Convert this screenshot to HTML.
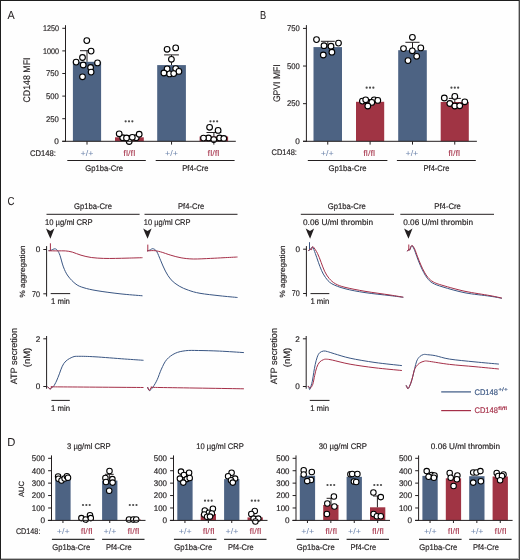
<!DOCTYPE html>
<html><head><meta charset="utf-8"><style>
html,body{margin:0;padding:0;background:#fff;}
body{width:520px;height:560px;overflow:hidden;position:relative;}
svg{position:absolute;left:0;top:0;font-family:"Liberation Sans", sans-serif;will-change:transform;-webkit-font-smoothing:antialiased;text-rendering:geometricPrecision;}
</style></head><body>
<svg width="520" height="560" viewBox="0 0 520 560">
<rect x="0" y="0" width="520" height="560" fill="#fefefe"/>
<text x="7.50" y="19.36" font-size="11.5" text-anchor="start" fill="#231f20" stroke="#231f20" stroke-width="0.05" textLength="7.20" lengthAdjust="spacingAndGlyphs">A</text>
<line x1="65.50" y1="25.20" x2="65.50" y2="141.80" stroke="#231f20" stroke-width="1.0"/>
<line x1="62.30" y1="141.30" x2="65.50" y2="141.30" stroke="#231f20" stroke-width="1.0"/>
<text x="58.90" y="144.12" font-size="8.2" text-anchor="end" fill="#231f20" stroke="#231f20" stroke-width="0.17">0</text>
<line x1="62.30" y1="118.70" x2="65.50" y2="118.70" stroke="#231f20" stroke-width="1.0"/>
<text x="58.90" y="121.52" font-size="8.2" text-anchor="end" fill="#231f20" stroke="#231f20" stroke-width="0.17" textLength="12.90" lengthAdjust="spacingAndGlyphs">250</text>
<line x1="62.30" y1="96.10" x2="65.50" y2="96.10" stroke="#231f20" stroke-width="1.0"/>
<text x="58.90" y="98.92" font-size="8.2" text-anchor="end" fill="#231f20" stroke="#231f20" stroke-width="0.17" textLength="12.90" lengthAdjust="spacingAndGlyphs">500</text>
<line x1="62.30" y1="73.50" x2="65.50" y2="73.50" stroke="#231f20" stroke-width="1.0"/>
<text x="58.90" y="76.32" font-size="8.2" text-anchor="end" fill="#231f20" stroke="#231f20" stroke-width="0.17" textLength="12.90" lengthAdjust="spacingAndGlyphs">750</text>
<line x1="62.30" y1="50.90" x2="65.50" y2="50.90" stroke="#231f20" stroke-width="1.0"/>
<text x="58.90" y="53.72" font-size="8.2" text-anchor="end" fill="#231f20" stroke="#231f20" stroke-width="0.17" textLength="16.00" lengthAdjust="spacingAndGlyphs">1000</text>
<line x1="62.30" y1="28.30" x2="65.50" y2="28.30" stroke="#231f20" stroke-width="1.0"/>
<text x="58.90" y="31.12" font-size="8.2" text-anchor="end" fill="#231f20" stroke="#231f20" stroke-width="0.17" textLength="16.00" lengthAdjust="spacingAndGlyphs">1250</text>
<text transform="translate(30.20,80.00) rotate(-90)" x="0" y="0" font-size="9.6" text-anchor="middle" fill="#231f20" stroke="#231f20" stroke-width="0.17" textLength="45.00" lengthAdjust="spacingAndGlyphs">CD148 MFI</text>
<rect x="72.90" y="61.80" width="28.20" height="79.50" fill="#4d6383"/>
<line x1="87.00" y1="141.30" x2="87.00" y2="144.60" stroke="#231f20" stroke-width="1.0"/>
<rect x="115.00" y="137.30" width="28.80" height="4.00" fill="#a03444"/>
<line x1="129.40" y1="141.30" x2="129.40" y2="144.60" stroke="#231f20" stroke-width="1.0"/>
<rect x="157.20" y="65.10" width="28.70" height="76.20" fill="#4d6383"/>
<line x1="171.55" y1="141.30" x2="171.55" y2="144.60" stroke="#231f20" stroke-width="1.0"/>
<rect x="199.60" y="136.50" width="28.50" height="4.80" fill="#a03444"/>
<line x1="213.85" y1="141.30" x2="213.85" y2="144.60" stroke="#231f20" stroke-width="1.0"/>
<line x1="87.00" y1="61.80" x2="87.00" y2="50.70" stroke="#231f20" stroke-width="1.0"/>
<line x1="80.00" y1="50.70" x2="94.00" y2="50.70" stroke="#231f20" stroke-width="1.0"/>
<line x1="171.50" y1="65.10" x2="171.50" y2="54.90" stroke="#231f20" stroke-width="1.0"/>
<line x1="164.10" y1="54.90" x2="178.90" y2="54.90" stroke="#231f20" stroke-width="1.0"/>
<line x1="213.90" y1="136.50" x2="213.90" y2="132.50" stroke="#231f20" stroke-width="1.0"/>
<line x1="206.50" y1="132.50" x2="221.30" y2="132.50" stroke="#231f20" stroke-width="1.0"/>
<line x1="129.40" y1="137.30" x2="129.40" y2="135.50" stroke="#231f20" stroke-width="1.0"/>
<line x1="123.50" y1="135.50" x2="135.30" y2="135.50" stroke="#231f20" stroke-width="1.0"/>
<circle cx="86.80" cy="40.60" r="2.85" fill="#fff" stroke="#000" stroke-width="1.12"/>
<circle cx="91.10" cy="51.10" r="2.85" fill="#fff" stroke="#000" stroke-width="1.12"/>
<circle cx="82.50" cy="57.50" r="2.85" fill="#fff" stroke="#000" stroke-width="1.12"/>
<circle cx="76.10" cy="62.10" r="2.85" fill="#fff" stroke="#000" stroke-width="1.12"/>
<circle cx="97.50" cy="62.90" r="2.85" fill="#fff" stroke="#000" stroke-width="1.12"/>
<circle cx="83.20" cy="65.00" r="2.85" fill="#fff" stroke="#000" stroke-width="1.12"/>
<circle cx="90.60" cy="67.50" r="2.85" fill="#fff" stroke="#000" stroke-width="1.12"/>
<circle cx="91.10" cy="72.10" r="2.85" fill="#fff" stroke="#000" stroke-width="1.12"/>
<circle cx="82.50" cy="76.80" r="2.85" fill="#fff" stroke="#000" stroke-width="1.12"/>
<circle cx="122.70" cy="137.70" r="2.85" fill="#fff" stroke="#000" stroke-width="1.12"/>
<circle cx="136.20" cy="137.70" r="2.85" fill="#fff" stroke="#000" stroke-width="1.12"/>
<circle cx="129.20" cy="141.50" r="2.85" fill="#fff" stroke="#000" stroke-width="1.12"/>
<circle cx="119.20" cy="133.80" r="2.85" fill="#fff" stroke="#000" stroke-width="1.12"/>
<circle cx="139.20" cy="134.20" r="2.85" fill="#fff" stroke="#000" stroke-width="1.12"/>
<circle cx="126.50" cy="138.00" r="2.85" fill="#fff" stroke="#000" stroke-width="1.12"/>
<circle cx="132.30" cy="137.30" r="2.85" fill="#fff" stroke="#000" stroke-width="1.12"/>
<circle cx="167.10" cy="49.30" r="2.85" fill="#fff" stroke="#000" stroke-width="1.12"/>
<circle cx="175.70" cy="47.90" r="2.85" fill="#fff" stroke="#000" stroke-width="1.12"/>
<circle cx="171.40" cy="59.30" r="2.85" fill="#fff" stroke="#000" stroke-width="1.12"/>
<circle cx="167.10" cy="68.90" r="2.85" fill="#fff" stroke="#000" stroke-width="1.12"/>
<circle cx="175.70" cy="68.60" r="2.85" fill="#fff" stroke="#000" stroke-width="1.12"/>
<circle cx="163.90" cy="73.00" r="2.85" fill="#fff" stroke="#000" stroke-width="1.12"/>
<circle cx="178.90" cy="71.40" r="2.85" fill="#fff" stroke="#000" stroke-width="1.12"/>
<circle cx="169.60" cy="73.90" r="2.85" fill="#fff" stroke="#000" stroke-width="1.12"/>
<circle cx="173.70" cy="73.60" r="2.85" fill="#fff" stroke="#000" stroke-width="1.12"/>
<circle cx="209.60" cy="127.30" r="2.85" fill="#fff" stroke="#000" stroke-width="1.12"/>
<circle cx="218.10" cy="130.40" r="2.85" fill="#fff" stroke="#000" stroke-width="1.12"/>
<circle cx="208.50" cy="138.00" r="2.85" fill="#fff" stroke="#000" stroke-width="1.12"/>
<circle cx="219.60" cy="138.00" r="2.85" fill="#fff" stroke="#000" stroke-width="1.12"/>
<circle cx="203.50" cy="138.10" r="2.85" fill="#fff" stroke="#000" stroke-width="1.12"/>
<circle cx="223.80" cy="138.50" r="2.85" fill="#fff" stroke="#000" stroke-width="1.12"/>
<circle cx="213.80" cy="139.60" r="2.85" fill="#fff" stroke="#000" stroke-width="1.12"/>
<line x1="62.20" y1="141.30" x2="235.80" y2="141.30" stroke="#231f20" stroke-width="1.0"/>
<circle cx="125.65" cy="121.30" r="1.1" fill="#4a4a4a"/>
<circle cx="129.00" cy="121.30" r="1.1" fill="#4a4a4a"/>
<circle cx="132.35" cy="121.30" r="1.1" fill="#4a4a4a"/>
<circle cx="210.45" cy="121.30" r="1.1" fill="#4a4a4a"/>
<circle cx="213.80" cy="121.30" r="1.1" fill="#4a4a4a"/>
<circle cx="217.15" cy="121.30" r="1.1" fill="#4a4a4a"/>
<text x="29.90" y="156.32" font-size="8.2" text-anchor="start" fill="#231f20" stroke="#231f20" stroke-width="0.17" textLength="26.00" lengthAdjust="spacingAndGlyphs">CD148:</text>
<text x="87.00" y="155.82" font-size="8.2" text-anchor="middle" fill="#6f86ad" stroke="#6f86ad" stroke-width="0" textLength="12.90" lengthAdjust="spacingAndGlyphs">+/+</text>
<text x="129.30" y="155.82" font-size="8.2" text-anchor="middle" fill="#a8384f" stroke="#a8384f" stroke-width="0.05" textLength="11.90" lengthAdjust="spacingAndGlyphs">fl/fl</text>
<text x="171.50" y="155.82" font-size="8.2" text-anchor="middle" fill="#6f86ad" stroke="#6f86ad" stroke-width="0" textLength="12.90" lengthAdjust="spacingAndGlyphs">+/+</text>
<text x="213.50" y="155.82" font-size="8.2" text-anchor="middle" fill="#a8384f" stroke="#a8384f" stroke-width="0.05" textLength="11.90" lengthAdjust="spacingAndGlyphs">fl/fl</text>
<line x1="67.30" y1="160.50" x2="145.80" y2="160.50" stroke="#231f20" stroke-width="1.0"/>
<line x1="155.70" y1="160.50" x2="234.60" y2="160.50" stroke="#231f20" stroke-width="1.0"/>
<text x="104.20" y="170.82" font-size="8.2" text-anchor="middle" fill="#231f20" stroke="#231f20" stroke-width="0.17" textLength="37.80" lengthAdjust="spacingAndGlyphs">Gp1ba-Cre</text>
<text x="195.40" y="170.82" font-size="8.2" text-anchor="middle" fill="#231f20" stroke="#231f20" stroke-width="0.17" textLength="26.30" lengthAdjust="spacingAndGlyphs">Pf4-Cre</text>
<text x="260.00" y="19.46" font-size="11.5" text-anchor="start" fill="#231f20" stroke="#231f20" stroke-width="0.05" textLength="6.20" lengthAdjust="spacingAndGlyphs">B</text>
<line x1="306.40" y1="25.10" x2="306.40" y2="141.80" stroke="#231f20" stroke-width="1.0"/>
<line x1="303.00" y1="141.30" x2="306.40" y2="141.30" stroke="#231f20" stroke-width="1.0"/>
<text x="299.90" y="144.12" font-size="8.2" text-anchor="end" fill="#231f20" stroke="#231f20" stroke-width="0.17">0</text>
<line x1="303.00" y1="103.67" x2="306.40" y2="103.67" stroke="#231f20" stroke-width="1.0"/>
<text x="299.90" y="106.49" font-size="8.2" text-anchor="end" fill="#231f20" stroke="#231f20" stroke-width="0.17" textLength="12.80" lengthAdjust="spacingAndGlyphs">250</text>
<line x1="303.00" y1="66.04" x2="306.40" y2="66.04" stroke="#231f20" stroke-width="1.0"/>
<text x="299.90" y="68.86" font-size="8.2" text-anchor="end" fill="#231f20" stroke="#231f20" stroke-width="0.17" textLength="12.80" lengthAdjust="spacingAndGlyphs">500</text>
<line x1="303.00" y1="28.41" x2="306.40" y2="28.41" stroke="#231f20" stroke-width="1.0"/>
<text x="299.90" y="31.23" font-size="8.2" text-anchor="end" fill="#231f20" stroke="#231f20" stroke-width="0.17" textLength="12.80" lengthAdjust="spacingAndGlyphs">750</text>
<text transform="translate(280.20,83.20) rotate(-90)" x="0" y="0" font-size="9.6" text-anchor="middle" fill="#231f20" stroke="#231f20" stroke-width="0.17" textLength="37.80" lengthAdjust="spacingAndGlyphs">GPVI MFI</text>
<rect x="313.50" y="47.10" width="28.50" height="94.20" fill="#4d6383"/>
<line x1="327.75" y1="141.30" x2="327.75" y2="144.60" stroke="#231f20" stroke-width="1.0"/>
<rect x="356.00" y="101.80" width="28.20" height="39.50" fill="#a03444"/>
<line x1="370.10" y1="141.30" x2="370.10" y2="144.60" stroke="#231f20" stroke-width="1.0"/>
<rect x="398.20" y="50.20" width="28.60" height="91.10" fill="#4d6383"/>
<line x1="412.50" y1="141.30" x2="412.50" y2="144.60" stroke="#231f20" stroke-width="1.0"/>
<rect x="440.70" y="102.00" width="28.10" height="39.30" fill="#a03444"/>
<line x1="454.75" y1="141.30" x2="454.75" y2="144.60" stroke="#231f20" stroke-width="1.0"/>
<line x1="327.80" y1="47.10" x2="327.80" y2="41.30" stroke="#231f20" stroke-width="1.0"/>
<line x1="320.90" y1="41.30" x2="334.80" y2="41.30" stroke="#231f20" stroke-width="1.0"/>
<line x1="412.50" y1="50.20" x2="412.50" y2="42.30" stroke="#231f20" stroke-width="1.0"/>
<line x1="405.40" y1="42.30" x2="419.50" y2="42.30" stroke="#231f20" stroke-width="1.0"/>
<line x1="454.80" y1="102.00" x2="454.80" y2="98.40" stroke="#231f20" stroke-width="1.0"/>
<line x1="448.80" y1="98.40" x2="460.80" y2="98.40" stroke="#231f20" stroke-width="1.0"/>
<line x1="370.10" y1="101.80" x2="370.10" y2="99.50" stroke="#231f20" stroke-width="1.0"/>
<line x1="364.10" y1="99.50" x2="376.10" y2="99.50" stroke="#231f20" stroke-width="1.0"/>
<circle cx="316.50" cy="39.60" r="2.85" fill="#fff" stroke="#000" stroke-width="1.12"/>
<circle cx="338.50" cy="43.10" r="2.85" fill="#fff" stroke="#000" stroke-width="1.12"/>
<circle cx="324.00" cy="45.70" r="2.85" fill="#fff" stroke="#000" stroke-width="1.12"/>
<circle cx="331.00" cy="46.20" r="2.85" fill="#fff" stroke="#000" stroke-width="1.12"/>
<circle cx="331.90" cy="52.20" r="2.85" fill="#fff" stroke="#000" stroke-width="1.12"/>
<circle cx="323.30" cy="55.00" r="2.85" fill="#fff" stroke="#000" stroke-width="1.12"/>
<circle cx="362.40" cy="101.10" r="2.85" fill="#fff" stroke="#000" stroke-width="1.12"/>
<circle cx="365.70" cy="99.80" r="2.85" fill="#fff" stroke="#000" stroke-width="1.12"/>
<circle cx="374.20" cy="99.80" r="2.85" fill="#fff" stroke="#000" stroke-width="1.12"/>
<circle cx="377.80" cy="100.40" r="2.85" fill="#fff" stroke="#000" stroke-width="1.12"/>
<circle cx="371.80" cy="102.40" r="2.85" fill="#fff" stroke="#000" stroke-width="1.12"/>
<circle cx="367.80" cy="106.00" r="2.85" fill="#fff" stroke="#000" stroke-width="1.12"/>
<circle cx="412.40" cy="37.30" r="2.85" fill="#fff" stroke="#000" stroke-width="1.12"/>
<circle cx="403.50" cy="48.60" r="2.85" fill="#fff" stroke="#000" stroke-width="1.12"/>
<circle cx="420.80" cy="47.90" r="2.85" fill="#fff" stroke="#000" stroke-width="1.12"/>
<circle cx="412.30" cy="50.80" r="2.85" fill="#fff" stroke="#000" stroke-width="1.12"/>
<circle cx="416.70" cy="56.30" r="2.85" fill="#fff" stroke="#000" stroke-width="1.12"/>
<circle cx="408.00" cy="60.60" r="2.85" fill="#fff" stroke="#000" stroke-width="1.12"/>
<circle cx="444.30" cy="98.00" r="2.85" fill="#fff" stroke="#000" stroke-width="1.12"/>
<circle cx="454.80" cy="96.40" r="2.85" fill="#fff" stroke="#000" stroke-width="1.12"/>
<circle cx="464.80" cy="101.80" r="2.85" fill="#fff" stroke="#000" stroke-width="1.12"/>
<circle cx="449.80" cy="103.50" r="2.85" fill="#fff" stroke="#000" stroke-width="1.12"/>
<circle cx="454.80" cy="106.00" r="2.85" fill="#fff" stroke="#000" stroke-width="1.12"/>
<circle cx="459.70" cy="105.80" r="2.85" fill="#fff" stroke="#000" stroke-width="1.12"/>
<line x1="303.00" y1="141.30" x2="476.90" y2="141.30" stroke="#231f20" stroke-width="1.0"/>
<circle cx="366.65" cy="87.70" r="1.1" fill="#4a4a4a"/>
<circle cx="370.00" cy="87.70" r="1.1" fill="#4a4a4a"/>
<circle cx="373.35" cy="87.70" r="1.1" fill="#4a4a4a"/>
<circle cx="451.45" cy="87.70" r="1.1" fill="#4a4a4a"/>
<circle cx="454.80" cy="87.70" r="1.1" fill="#4a4a4a"/>
<circle cx="458.15" cy="87.70" r="1.1" fill="#4a4a4a"/>
<text x="271.60" y="155.42" font-size="8.2" text-anchor="start" fill="#231f20" stroke="#231f20" stroke-width="0.17" textLength="25.30" lengthAdjust="spacingAndGlyphs">CD148:</text>
<text x="327.20" y="155.82" font-size="8.2" text-anchor="middle" fill="#6f86ad" stroke="#6f86ad" stroke-width="0" textLength="12.90" lengthAdjust="spacingAndGlyphs">+/+</text>
<text x="369.20" y="155.82" font-size="8.2" text-anchor="middle" fill="#a8384f" stroke="#a8384f" stroke-width="0.05" textLength="11.90" lengthAdjust="spacingAndGlyphs">fl/fl</text>
<text x="411.90" y="155.82" font-size="8.2" text-anchor="middle" fill="#6f86ad" stroke="#6f86ad" stroke-width="0" textLength="12.90" lengthAdjust="spacingAndGlyphs">+/+</text>
<text x="454.20" y="155.82" font-size="8.2" text-anchor="middle" fill="#a8384f" stroke="#a8384f" stroke-width="0.05" textLength="11.90" lengthAdjust="spacingAndGlyphs">fl/fl</text>
<line x1="307.80" y1="160.50" x2="387.40" y2="160.50" stroke="#231f20" stroke-width="1.0"/>
<line x1="396.90" y1="160.50" x2="475.80" y2="160.50" stroke="#231f20" stroke-width="1.0"/>
<text x="347.50" y="170.62" font-size="8.2" text-anchor="middle" fill="#231f20" stroke="#231f20" stroke-width="0.17" textLength="38.10" lengthAdjust="spacingAndGlyphs">Gp1ba-Cre</text>
<text x="436.50" y="170.62" font-size="8.2" text-anchor="middle" fill="#231f20" stroke="#231f20" stroke-width="0.17" textLength="25.90" lengthAdjust="spacingAndGlyphs">Pf4-Cre</text>
<text x="7.50" y="204.86" font-size="11.5" text-anchor="start" fill="#231f20" stroke="#231f20" stroke-width="0.05" textLength="7.00" lengthAdjust="spacingAndGlyphs">C</text>
<text x="93.00" y="208.82" font-size="8.2" text-anchor="middle" fill="#231f20" stroke="#231f20" stroke-width="0.17" textLength="37.80" lengthAdjust="spacingAndGlyphs">Gp1ba-Cre</text>
<text x="191.10" y="208.82" font-size="8.2" text-anchor="middle" fill="#231f20" stroke="#231f20" stroke-width="0.17" textLength="26.20" lengthAdjust="spacingAndGlyphs">Pf4-Cre</text>
<text x="346.70" y="208.82" font-size="8.2" text-anchor="middle" fill="#231f20" stroke="#231f20" stroke-width="0.17" textLength="38.10" lengthAdjust="spacingAndGlyphs">Gp1ba-Cre</text>
<text x="447.60" y="208.82" font-size="8.2" text-anchor="middle" fill="#231f20" stroke="#231f20" stroke-width="0.17" textLength="26.50" lengthAdjust="spacingAndGlyphs">Pf4-Cre</text>
<line x1="46.50" y1="214.30" x2="139.60" y2="214.30" stroke="#231f20" stroke-width="1.0"/>
<line x1="144.50" y1="214.30" x2="237.50" y2="214.30" stroke="#231f20" stroke-width="1.0"/>
<line x1="300.80" y1="214.30" x2="394.00" y2="214.30" stroke="#231f20" stroke-width="1.0"/>
<line x1="400.30" y1="214.30" x2="494.00" y2="214.30" stroke="#231f20" stroke-width="1.0"/>
<text x="45.00" y="224.92" font-size="8.2" text-anchor="start" fill="#231f20" stroke="#231f20" stroke-width="0.17" textLength="47.70" lengthAdjust="spacingAndGlyphs">10 µg/ml CRP</text>
<text x="143.80" y="224.92" font-size="8.2" text-anchor="start" fill="#231f20" stroke="#231f20" stroke-width="0.17" textLength="46.70" lengthAdjust="spacingAndGlyphs">10 µg/ml CRP</text>
<text x="303.00" y="225.02" font-size="8.2" text-anchor="start" fill="#231f20" stroke="#231f20" stroke-width="0.17" textLength="70.00" lengthAdjust="spacingAndGlyphs">0.06 U/ml thrombin</text>
<text x="403.20" y="225.02" font-size="8.2" text-anchor="start" fill="#231f20" stroke="#231f20" stroke-width="0.17" textLength="69.80" lengthAdjust="spacingAndGlyphs">0.06 U/ml thrombin</text>
<path d="M46.00,228.4 L50.30,230.9 L54.40,228.5 Q52.70,233.0 50.40,238.7 Q47.70,233.0 46.00,228.4 Z" fill="#231f20"/>
<path d="M143.20,228.4 L147.50,230.9 L151.60,228.5 Q149.90,233.0 147.60,238.7 Q144.90,233.0 143.20,228.4 Z" fill="#231f20"/>
<path d="M305.70,228.4 L310.00,230.9 L314.10,228.5 Q312.40,233.0 310.10,238.7 Q307.40,233.0 305.70,228.4 Z" fill="#231f20"/>
<path d="M404.10,228.4 L408.40,230.9 L412.50,228.5 Q410.80,233.0 408.50,238.7 Q405.80,233.0 404.10,228.4 Z" fill="#231f20"/>
<line x1="46.60" y1="246.10" x2="46.60" y2="296.50" stroke="#231f20" stroke-width="1.0"/>
<line x1="43.30" y1="249.50" x2="46.60" y2="249.50" stroke="#231f20" stroke-width="1.0"/>
<line x1="43.30" y1="293.80" x2="46.60" y2="293.80" stroke="#231f20" stroke-width="1.0"/>
<text x="40.20" y="252.32" font-size="8.2" text-anchor="end" fill="#231f20" stroke="#231f20" stroke-width="0.17">0</text>
<text x="40.00" y="296.62" font-size="8.2" text-anchor="end" fill="#231f20" stroke="#231f20" stroke-width="0.17" textLength="8.00" lengthAdjust="spacingAndGlyphs">70</text>
<line x1="50.70" y1="293.60" x2="70.20" y2="293.60" stroke="#231f20" stroke-width="1.0"/>
<text x="60.45" y="304.12" font-size="8.2" text-anchor="middle" fill="#231f20" stroke="#231f20" stroke-width="0.17" textLength="19.00" lengthAdjust="spacingAndGlyphs">1 min</text>
<text transform="translate(25.21,271.50) rotate(-90)" x="0" y="0" font-size="7.6" text-anchor="middle" fill="#231f20" stroke="#231f20" stroke-width="0.17" textLength="52.00" lengthAdjust="spacingAndGlyphs">% aggregation</text>
<line x1="306.40" y1="246.10" x2="306.40" y2="296.50" stroke="#231f20" stroke-width="1.0"/>
<line x1="303.10" y1="249.20" x2="306.40" y2="249.20" stroke="#231f20" stroke-width="1.0"/>
<line x1="303.10" y1="293.50" x2="306.40" y2="293.50" stroke="#231f20" stroke-width="1.0"/>
<text x="300.00" y="252.02" font-size="8.2" text-anchor="end" fill="#231f20" stroke="#231f20" stroke-width="0.17">0</text>
<text x="299.80" y="296.32" font-size="8.2" text-anchor="end" fill="#231f20" stroke="#231f20" stroke-width="0.17" textLength="8.00" lengthAdjust="spacingAndGlyphs">70</text>
<line x1="310.50" y1="293.60" x2="329.30" y2="293.60" stroke="#231f20" stroke-width="1.0"/>
<text x="319.90" y="304.12" font-size="8.2" text-anchor="middle" fill="#231f20" stroke="#231f20" stroke-width="0.17" textLength="19.00" lengthAdjust="spacingAndGlyphs">1 min</text>
<text transform="translate(285.01,271.50) rotate(-90)" x="0" y="0" font-size="7.6" text-anchor="middle" fill="#231f20" stroke="#231f20" stroke-width="0.17" textLength="52.00" lengthAdjust="spacingAndGlyphs">% aggregation</text>
<line x1="46.60" y1="336.00" x2="46.60" y2="388.70" stroke="#231f20" stroke-width="1.0"/>
<line x1="43.30" y1="338.80" x2="46.60" y2="338.80" stroke="#231f20" stroke-width="1.0"/>
<line x1="43.30" y1="386.50" x2="46.60" y2="386.50" stroke="#231f20" stroke-width="1.0"/>
<text x="40.30" y="341.62" font-size="8.2" text-anchor="end" fill="#231f20" stroke="#231f20" stroke-width="0.17">2</text>
<text x="40.30" y="389.32" font-size="8.2" text-anchor="end" fill="#231f20" stroke="#231f20" stroke-width="0.17">0</text>
<line x1="51.40" y1="400.40" x2="69.80" y2="400.40" stroke="#231f20" stroke-width="1.0"/>
<text x="60.60" y="411.22" font-size="8.2" text-anchor="middle" fill="#231f20" stroke="#231f20" stroke-width="0.17" textLength="19.00" lengthAdjust="spacingAndGlyphs">1 min</text>
<text transform="translate(17.46,356.20) rotate(-90)" x="0" y="0" font-size="9.2" text-anchor="middle" fill="#231f20" stroke="#231f20" stroke-width="0.17" textLength="56.30" lengthAdjust="spacingAndGlyphs">ATP secretion</text>
<text transform="translate(30.16,357.50) rotate(-90)" x="0" y="0" font-size="9.2" text-anchor="middle" fill="#231f20" stroke="#231f20" stroke-width="0.17" textLength="19.60" lengthAdjust="spacingAndGlyphs">(nM)</text>
<line x1="306.20" y1="336.00" x2="306.20" y2="388.70" stroke="#231f20" stroke-width="1.0"/>
<line x1="302.90" y1="338.80" x2="306.20" y2="338.80" stroke="#231f20" stroke-width="1.0"/>
<line x1="302.90" y1="386.50" x2="306.20" y2="386.50" stroke="#231f20" stroke-width="1.0"/>
<text x="299.90" y="341.62" font-size="8.2" text-anchor="end" fill="#231f20" stroke="#231f20" stroke-width="0.17">2</text>
<text x="299.90" y="389.32" font-size="8.2" text-anchor="end" fill="#231f20" stroke="#231f20" stroke-width="0.17">0</text>
<line x1="309.80" y1="400.40" x2="329.50" y2="400.40" stroke="#231f20" stroke-width="1.0"/>
<text x="319.65" y="411.22" font-size="8.2" text-anchor="middle" fill="#231f20" stroke="#231f20" stroke-width="0.17" textLength="19.00" lengthAdjust="spacingAndGlyphs">1 min</text>
<text transform="translate(277.06,356.20) rotate(-90)" x="0" y="0" font-size="9.2" text-anchor="middle" fill="#231f20" stroke="#231f20" stroke-width="0.17" textLength="56.30" lengthAdjust="spacingAndGlyphs">ATP secretion</text>
<text transform="translate(289.76,357.50) rotate(-90)" x="0" y="0" font-size="9.2" text-anchor="middle" fill="#231f20" stroke="#231f20" stroke-width="0.17" textLength="19.60" lengthAdjust="spacingAndGlyphs">(nM)</text>
<path d="M48.50,250.60 C48.92,250.55 49.95,250.60 51.00,250.30 C52.05,250.00 53.72,248.77 54.80,248.80 C55.88,248.83 56.63,249.38 57.50,250.50 C58.37,251.62 59.02,252.77 60.00,255.50 C60.98,258.23 62.07,263.48 63.40,266.90 C64.73,270.32 65.90,273.12 68.00,276.00 C70.10,278.88 73.33,282.23 76.00,284.20 C78.67,286.17 80.50,286.72 84.00,287.80 C87.50,288.88 91.00,289.70 97.00,290.70 C103.00,291.70 112.42,292.95 120.00,293.80 C127.58,294.65 138.75,295.47 142.50,295.80" fill="none" stroke="#3a5683" stroke-width="1.0" stroke-linejoin="round"/>
<path d="M48.50,250.80 C50.02,250.82 54.78,250.88 57.60,250.90 C60.42,250.92 62.95,250.70 65.40,250.90 C67.85,251.10 69.70,251.38 72.30,252.10 C74.90,252.82 77.83,254.30 81.00,255.20 C84.17,256.10 87.57,256.97 91.30,257.50 C95.03,258.03 99.35,258.25 103.40,258.40 C107.45,258.55 111.50,258.45 115.60,258.40 C119.70,258.35 123.52,258.22 128.00,258.10 C132.48,257.98 140.08,257.77 142.50,257.70" fill="none" stroke="#a52f48" stroke-width="1.0" stroke-linejoin="round"/>
<line x1="50.40" y1="243.30" x2="50.40" y2="250.60" stroke="#a52f48" stroke-width="1.0"/>
<path d="M147.00,251.00 C147.50,250.83 149.02,250.38 150.00,250.00 C150.98,249.62 151.78,248.45 152.90,248.70 C154.02,248.95 155.38,249.48 156.70,251.50 C158.02,253.52 159.35,257.53 160.80,260.80 C162.25,264.07 163.68,267.93 165.40,271.10 C167.12,274.27 168.80,277.30 171.10,279.80 C173.40,282.30 176.32,284.37 179.20,286.10 C182.08,287.83 184.93,289.00 188.40,290.20 C191.87,291.40 194.73,292.37 200.00,293.30 C205.27,294.23 213.75,295.10 220.00,295.80 C226.25,296.50 234.58,297.22 237.50,297.50" fill="none" stroke="#3a5683" stroke-width="1.0" stroke-linejoin="round"/>
<path d="M147.00,251.00 C148.08,250.93 151.27,250.47 153.50,250.60 C155.73,250.73 157.52,251.03 160.40,251.80 C163.28,252.57 167.35,254.20 170.80,255.20 C174.25,256.20 177.35,257.17 181.10,257.80 C184.85,258.43 188.38,258.90 193.30,259.00 C198.22,259.10 205.48,258.62 210.60,258.40 C215.72,258.18 219.52,257.93 224.00,257.70 C228.48,257.47 235.25,257.12 237.50,257.00" fill="none" stroke="#a52f48" stroke-width="1.0" stroke-linejoin="round"/>
<line x1="147.80" y1="244.60" x2="147.80" y2="251.00" stroke="#a52f48" stroke-width="1.0"/>
<path d="M308.30,250.70 C308.50,250.58 309.13,250.20 309.50,250.00 C309.87,249.80 309.98,249.98 310.50,249.50 C311.02,249.02 311.80,246.45 312.60,247.10 C313.40,247.75 314.33,250.87 315.30,253.40 C316.27,255.93 317.37,259.47 318.40,262.30 C319.43,265.13 320.32,267.87 321.50,270.40 C322.68,272.93 323.78,275.27 325.50,277.50 C327.22,279.73 328.55,281.88 331.80,283.75 C335.05,285.62 339.47,287.22 345.00,288.70 C350.53,290.18 357.50,291.45 365.00,292.60 C372.50,293.75 383.62,294.82 390.00,295.60 C396.38,296.38 401.08,297.02 403.30,297.30" fill="none" stroke="#3a5683" stroke-width="1.0" stroke-linejoin="round"/>
<line x1="309.50" y1="242.20" x2="309.50" y2="250.30" stroke="#3a5683" stroke-width="1.0"/>
<path d="M308.30,250.70 C308.65,250.40 309.87,249.05 310.40,248.90 C310.93,248.75 311.07,250.17 311.50,249.80 C311.93,249.43 312.00,246.10 313.00,246.70 C314.00,247.30 316.15,250.80 317.50,253.40 C318.85,256.00 319.92,259.32 321.10,262.30 C322.28,265.28 323.27,268.57 324.60,271.25 C325.93,273.93 327.30,276.32 329.10,278.40 C330.90,280.48 332.75,282.27 335.40,283.75 C338.05,285.23 340.07,286.04 345.00,287.30 C349.93,288.56 357.50,290.02 365.00,291.30 C372.50,292.58 383.62,294.02 390.00,295.00 C396.38,295.98 401.08,296.83 403.30,297.20" fill="none" stroke="#a52f48" stroke-width="1.0" stroke-linejoin="round"/>
<path d="M407.00,251.20 C407.30,250.92 408.35,249.70 408.80,249.50 C409.25,249.30 409.22,250.62 409.70,250.00 C410.18,249.38 410.95,245.92 411.70,245.80 C412.45,245.68 413.35,247.52 414.20,249.30 C415.05,251.08 415.78,253.82 416.80,256.50 C417.82,259.18 419.13,262.72 420.30,265.40 C421.47,268.08 422.63,270.47 423.80,272.60 C424.97,274.73 425.85,276.47 427.30,278.20 C428.75,279.93 429.88,281.53 432.50,283.00 C435.12,284.47 437.58,285.37 443.00,287.00 C448.42,288.63 457.17,291.27 465.00,292.80 C472.83,294.33 483.85,295.28 490.00,296.20 C496.15,297.12 499.92,297.95 501.90,298.30" fill="none" stroke="#3a5683" stroke-width="1.0" stroke-linejoin="round"/>
<path d="M407.00,251.20 C407.30,250.97 408.35,250.03 408.80,249.80 C409.25,249.57 409.18,250.53 409.70,249.80 C410.22,249.07 411.08,245.55 411.90,245.40 C412.72,245.25 413.70,247.12 414.60,248.90 C415.50,250.68 416.25,253.42 417.30,256.10 C418.35,258.78 419.72,262.33 420.90,265.00 C422.08,267.67 423.22,270.02 424.40,272.10 C425.58,274.18 426.50,275.85 428.00,277.50 C429.50,279.15 430.90,280.67 433.40,282.00 C435.90,283.33 437.73,283.95 443.00,285.50 C448.27,287.05 457.17,289.62 465.00,291.30 C472.83,292.98 483.85,294.47 490.00,295.60 C496.15,296.73 499.92,297.68 501.90,298.10" fill="none" stroke="#a52f48" stroke-width="1.0" stroke-linejoin="round"/>
<line x1="408.80" y1="244.50" x2="408.80" y2="250.50" stroke="#a52f48" stroke-width="1.0"/>
<path d="M47.50,386.60 C47.95,387.00 49.45,388.90 50.20,389.00 C50.95,389.10 51.43,387.65 52.00,387.20 C52.57,386.75 52.85,387.33 53.60,386.30 C54.35,385.27 55.53,383.08 56.50,381.00 C57.47,378.92 58.43,376.27 59.40,373.80 C60.37,371.33 61.18,368.35 62.30,366.20 C63.42,364.05 64.35,362.43 66.10,360.90 C67.85,359.37 70.72,357.77 72.80,357.00 C74.88,356.23 74.90,356.33 78.60,356.30 C82.30,356.27 87.33,356.35 95.00,356.80 C102.67,357.25 116.52,358.42 124.60,359.00 C132.68,359.58 140.35,360.08 143.50,360.30" fill="none" stroke="#3a5683" stroke-width="1.0" stroke-linejoin="round"/>
<path d="M47.50,386.60 C47.95,387.03 49.45,389.13 50.20,389.20 C50.95,389.27 50.37,387.38 52.00,387.00 C53.63,386.62 44.75,386.82 60.00,386.90 C75.25,386.98 129.58,387.40 143.50,387.50" fill="none" stroke="#a52f48" stroke-width="1.0" stroke-linejoin="round"/>
<path d="M147.50,387.00 C147.82,387.60 148.48,390.60 149.40,390.60 C150.32,390.60 151.70,388.82 153.00,387.00 C154.30,385.18 155.80,382.68 157.20,379.70 C158.60,376.72 159.82,372.45 161.40,369.10 C162.98,365.75 164.40,362.23 166.70,359.60 C169.00,356.97 172.03,354.78 175.20,353.30 C178.37,351.82 181.83,351.17 185.70,350.70 C189.57,350.23 192.75,350.43 198.40,350.50 C204.05,350.57 212.02,350.75 219.60,351.10 C227.18,351.45 239.85,352.35 243.90,352.60" fill="none" stroke="#3a5683" stroke-width="1.0" stroke-linejoin="round"/>
<path d="M147.50,387.00 C147.82,387.57 148.68,390.33 149.40,390.40 C150.12,390.47 150.03,387.88 151.80,387.40 C153.57,386.92 144.65,387.27 160.00,387.50 C175.35,387.73 229.92,388.58 243.90,388.80" fill="none" stroke="#a52f48" stroke-width="1.0" stroke-linejoin="round"/>
<path d="M307.80,386.40 C307.97,386.43 308.47,386.10 308.80,386.60 C309.13,387.10 309.22,390.28 309.80,389.40 C310.38,388.52 311.64,384.13 312.30,381.30 C312.96,378.47 313.27,375.18 313.75,372.40 C314.23,369.62 314.62,367.13 315.20,364.60 C315.77,362.07 316.47,359.17 317.20,357.20 C317.93,355.23 318.53,353.83 319.60,352.80 C320.67,351.77 322.28,351.20 323.60,351.00 C324.92,350.80 325.70,351.14 327.50,351.60 C329.30,352.06 330.63,352.65 334.40,353.75 C338.17,354.85 343.33,356.74 350.10,358.20 C356.87,359.66 366.37,361.27 375.00,362.50 C383.63,363.73 397.42,365.08 401.90,365.60" fill="none" stroke="#3a5683" stroke-width="1.0" stroke-linejoin="round"/>
<path d="M307.80,386.40 C307.92,386.42 308.08,386.22 308.50,386.50 C308.92,386.78 309.58,388.48 310.30,388.10 C311.02,387.72 312.07,386.32 312.80,384.20 C313.53,382.08 314.05,378.18 314.70,375.40 C315.35,372.62 315.88,369.72 316.70,367.50 C317.52,365.28 318.45,363.42 319.60,362.10 C320.75,360.78 322.45,360.08 323.60,359.60 C324.75,359.12 325.03,359.12 326.50,359.20 C327.97,359.28 328.47,359.27 332.40,360.10 C336.33,360.93 343.00,362.92 350.10,364.20 C357.20,365.48 366.37,366.75 375.00,367.80 C383.63,368.85 397.42,370.05 401.90,370.50" fill="none" stroke="#a52f48" stroke-width="1.0" stroke-linejoin="round"/>
<path d="M405.80,385.60 C405.90,385.62 406.02,385.20 406.40,385.70 C406.78,386.20 407.37,389.02 408.10,388.60 C408.83,388.18 410.02,385.25 410.80,383.20 C411.58,381.15 412.15,378.75 412.80,376.30 C413.45,373.85 414.05,371.03 414.70,368.50 C415.35,365.97 415.88,363.07 416.70,361.10 C417.52,359.13 418.45,357.80 419.60,356.70 C420.75,355.60 422.28,354.83 423.60,354.50 C424.92,354.17 425.53,354.50 427.50,354.70 C429.47,354.90 431.72,354.97 435.40,355.70 C439.08,356.43 443.00,358.07 449.60,359.10 C456.20,360.13 466.78,361.07 475.00,361.90 C483.22,362.73 494.92,363.73 498.90,364.10" fill="none" stroke="#3a5683" stroke-width="1.0" stroke-linejoin="round"/>
<path d="M405.80,385.60 C405.90,385.62 406.02,385.20 406.40,385.70 C406.78,386.20 407.37,389.02 408.10,388.60 C408.83,388.18 410.02,385.25 410.80,383.20 C411.58,381.15 412.23,378.42 412.80,376.30 C413.37,374.18 413.63,372.13 414.20,370.50 C414.77,368.87 415.30,367.73 416.20,366.50 C417.10,365.27 418.20,364.00 419.60,363.10 C421.00,362.20 422.95,361.38 424.60,361.10 C426.25,360.82 425.33,360.85 429.50,361.40 C433.67,361.95 442.02,363.52 449.60,364.40 C457.18,365.28 466.78,365.93 475.00,366.70 C483.22,367.47 494.92,368.62 498.90,369.00" fill="none" stroke="#a52f48" stroke-width="1.0" stroke-linejoin="round"/>
<line x1="441.20" y1="391.90" x2="471.00" y2="391.90" stroke="#3a5683" stroke-width="1.2"/>
<line x1="441.20" y1="410.60" x2="471.00" y2="410.60" stroke="#a52f48" stroke-width="1.2"/>
<text x="474.50" y="394.72" font-size="8.2" text-anchor="start" fill="#3a5683" stroke="#3a5683" stroke-width="0.17" textLength="23.40" lengthAdjust="spacingAndGlyphs">CD148</text>
<text x="498.30" y="391.02" font-size="5.0" text-anchor="start" fill="#3a5683" stroke="#3a5683" stroke-width="0.17" textLength="9.40" lengthAdjust="spacingAndGlyphs">+/+</text>
<text x="474.50" y="413.42" font-size="8.2" text-anchor="start" fill="#a52f48" stroke="#a52f48" stroke-width="0.17" textLength="23.40" lengthAdjust="spacingAndGlyphs">CD148</text>
<text x="498.30" y="409.72" font-size="5.0" text-anchor="start" fill="#a52f48" stroke="#a52f48" stroke-width="0.17" textLength="8.60" lengthAdjust="spacingAndGlyphs">fl/fl</text>
<text x="7.30" y="446.46" font-size="11.5" text-anchor="start" fill="#231f20" stroke="#231f20" stroke-width="0.05" textLength="8.10" lengthAdjust="spacingAndGlyphs">D</text>
<text x="88.85" y="449.12" font-size="8.2" text-anchor="middle" fill="#231f20" stroke="#231f20" stroke-width="0.17" textLength="43.70" lengthAdjust="spacingAndGlyphs">3 µg/ml CRP</text>
<line x1="51.50" y1="455.40" x2="51.50" y2="520.90" stroke="#231f20" stroke-width="1.0"/>
<line x1="48.10" y1="520.40" x2="51.50" y2="520.40" stroke="#231f20" stroke-width="1.0"/>
<text x="45.00" y="523.22" font-size="8.2" text-anchor="end" fill="#231f20" stroke="#231f20" stroke-width="0.17">0</text>
<line x1="48.10" y1="507.98" x2="51.50" y2="507.98" stroke="#231f20" stroke-width="1.0"/>
<text x="45.00" y="510.80" font-size="8.2" text-anchor="end" fill="#231f20" stroke="#231f20" stroke-width="0.17" textLength="13.20" lengthAdjust="spacingAndGlyphs">100</text>
<line x1="48.10" y1="495.56" x2="51.50" y2="495.56" stroke="#231f20" stroke-width="1.0"/>
<text x="45.00" y="498.38" font-size="8.2" text-anchor="end" fill="#231f20" stroke="#231f20" stroke-width="0.17" textLength="13.20" lengthAdjust="spacingAndGlyphs">200</text>
<line x1="48.10" y1="483.14" x2="51.50" y2="483.14" stroke="#231f20" stroke-width="1.0"/>
<text x="45.00" y="485.96" font-size="8.2" text-anchor="end" fill="#231f20" stroke="#231f20" stroke-width="0.17" textLength="13.20" lengthAdjust="spacingAndGlyphs">300</text>
<line x1="48.10" y1="470.72" x2="51.50" y2="470.72" stroke="#231f20" stroke-width="1.0"/>
<text x="45.00" y="473.54" font-size="8.2" text-anchor="end" fill="#231f20" stroke="#231f20" stroke-width="0.17" textLength="13.20" lengthAdjust="spacingAndGlyphs">400</text>
<line x1="48.10" y1="458.30" x2="51.50" y2="458.30" stroke="#231f20" stroke-width="1.0"/>
<text x="45.00" y="461.12" font-size="8.2" text-anchor="end" fill="#231f20" stroke="#231f20" stroke-width="0.17" textLength="13.20" lengthAdjust="spacingAndGlyphs">500</text>
<rect x="55.30" y="478.50" width="15.30" height="41.90" fill="#4d6383"/>
<line x1="62.95" y1="520.40" x2="62.95" y2="523.00" stroke="#231f20" stroke-width="1.0"/>
<rect x="78.70" y="518.80" width="15.30" height="1.60" fill="#a03444"/>
<line x1="86.35" y1="520.40" x2="86.35" y2="523.00" stroke="#231f20" stroke-width="1.0"/>
<rect x="102.10" y="480.60" width="15.30" height="39.80" fill="#4d6383"/>
<line x1="109.75" y1="520.40" x2="109.75" y2="523.00" stroke="#231f20" stroke-width="1.0"/>
<rect x="125.50" y="519.50" width="15.30" height="0.90" fill="#a03444"/>
<line x1="133.15" y1="520.40" x2="133.15" y2="523.00" stroke="#231f20" stroke-width="1.0"/>
<line x1="109.30" y1="480.60" x2="109.30" y2="474.30" stroke="#231f20" stroke-width="1.0"/>
<line x1="104.90" y1="474.30" x2="113.70" y2="474.30" stroke="#231f20" stroke-width="1.0"/>
<circle cx="58.10" cy="476.50" r="2.75" fill="#fff" stroke="#000" stroke-width="1.05"/>
<circle cx="58.50" cy="478.80" r="2.75" fill="#fff" stroke="#000" stroke-width="1.05"/>
<circle cx="61.50" cy="480.40" r="2.75" fill="#fff" stroke="#000" stroke-width="1.05"/>
<circle cx="64.60" cy="478.50" r="2.75" fill="#fff" stroke="#000" stroke-width="1.05"/>
<circle cx="66.90" cy="476.20" r="2.75" fill="#fff" stroke="#000" stroke-width="1.05"/>
<circle cx="68.00" cy="477.70" r="2.75" fill="#fff" stroke="#000" stroke-width="1.05"/>
<circle cx="81.40" cy="518.10" r="2.75" fill="#fff" stroke="#000" stroke-width="1.05"/>
<circle cx="85.70" cy="519.50" r="2.75" fill="#fff" stroke="#000" stroke-width="1.05"/>
<circle cx="90.00" cy="515.20" r="2.75" fill="#fff" stroke="#000" stroke-width="1.05"/>
<circle cx="90.80" cy="518.10" r="2.75" fill="#fff" stroke="#000" stroke-width="1.05"/>
<circle cx="109.50" cy="471.00" r="2.75" fill="#fff" stroke="#000" stroke-width="1.05"/>
<circle cx="105.40" cy="478.00" r="2.75" fill="#fff" stroke="#000" stroke-width="1.05"/>
<circle cx="112.40" cy="479.10" r="2.75" fill="#fff" stroke="#000" stroke-width="1.05"/>
<circle cx="106.00" cy="482.00" r="2.75" fill="#fff" stroke="#000" stroke-width="1.05"/>
<circle cx="112.60" cy="482.60" r="2.75" fill="#fff" stroke="#000" stroke-width="1.05"/>
<circle cx="109.20" cy="490.70" r="2.75" fill="#fff" stroke="#000" stroke-width="1.05"/>
<circle cx="129.00" cy="519.50" r="2.75" fill="#fff" stroke="#000" stroke-width="1.05"/>
<circle cx="133.30" cy="519.50" r="2.75" fill="#fff" stroke="#000" stroke-width="1.05"/>
<circle cx="136.20" cy="519.50" r="2.75" fill="#fff" stroke="#000" stroke-width="1.05"/>
<line x1="47.90" y1="520.40" x2="145.50" y2="520.40" stroke="#231f20" stroke-width="1.0"/>
<circle cx="83.00" cy="505.00" r="1.1" fill="#4a4a4a"/>
<circle cx="86.35" cy="505.00" r="1.1" fill="#4a4a4a"/>
<circle cx="89.70" cy="505.00" r="1.1" fill="#4a4a4a"/>
<circle cx="129.80" cy="505.00" r="1.1" fill="#4a4a4a"/>
<circle cx="133.15" cy="505.00" r="1.1" fill="#4a4a4a"/>
<circle cx="136.50" cy="505.00" r="1.1" fill="#4a4a4a"/>
<text x="63.25" y="534.32" font-size="8.2" text-anchor="middle" fill="#6f86ad" stroke="#6f86ad" stroke-width="0" textLength="12.90" lengthAdjust="spacingAndGlyphs">+/+</text>
<text x="86.65" y="534.32" font-size="8.2" text-anchor="middle" fill="#a8384f" stroke="#a8384f" stroke-width="0.05" textLength="11.90" lengthAdjust="spacingAndGlyphs">fl/fl</text>
<text x="110.05" y="534.32" font-size="8.2" text-anchor="middle" fill="#6f86ad" stroke="#6f86ad" stroke-width="0" textLength="12.90" lengthAdjust="spacingAndGlyphs">+/+</text>
<text x="133.45" y="534.32" font-size="8.2" text-anchor="middle" fill="#a8384f" stroke="#a8384f" stroke-width="0.05" textLength="11.90" lengthAdjust="spacingAndGlyphs">fl/fl</text>
<line x1="51.90" y1="539.40" x2="94.50" y2="539.40" stroke="#333" stroke-width="1.1"/>
<line x1="102.10" y1="539.40" x2="144.50" y2="539.40" stroke="#333" stroke-width="1.1"/>
<text x="71.20" y="549.72" font-size="8.2" text-anchor="middle" fill="#231f20" stroke="#231f20" stroke-width="0.17" textLength="38.00" lengthAdjust="spacingAndGlyphs">Gp1ba-Cre</text>
<text x="118.80" y="549.72" font-size="8.2" text-anchor="middle" fill="#231f20" stroke="#231f20" stroke-width="0.17" textLength="25.80" lengthAdjust="spacingAndGlyphs">Pf4-Cre</text>
<text x="220.05" y="449.12" font-size="8.2" text-anchor="middle" fill="#231f20" stroke="#231f20" stroke-width="0.17" textLength="47.50" lengthAdjust="spacingAndGlyphs">10 µg/ml CRP</text>
<line x1="173.50" y1="455.40" x2="173.50" y2="520.90" stroke="#231f20" stroke-width="1.0"/>
<line x1="170.10" y1="520.40" x2="173.50" y2="520.40" stroke="#231f20" stroke-width="1.0"/>
<text x="167.00" y="523.22" font-size="8.2" text-anchor="end" fill="#231f20" stroke="#231f20" stroke-width="0.17">0</text>
<line x1="170.10" y1="507.98" x2="173.50" y2="507.98" stroke="#231f20" stroke-width="1.0"/>
<text x="167.00" y="510.80" font-size="8.2" text-anchor="end" fill="#231f20" stroke="#231f20" stroke-width="0.17" textLength="13.20" lengthAdjust="spacingAndGlyphs">100</text>
<line x1="170.10" y1="495.56" x2="173.50" y2="495.56" stroke="#231f20" stroke-width="1.0"/>
<text x="167.00" y="498.38" font-size="8.2" text-anchor="end" fill="#231f20" stroke="#231f20" stroke-width="0.17" textLength="13.20" lengthAdjust="spacingAndGlyphs">200</text>
<line x1="170.10" y1="483.14" x2="173.50" y2="483.14" stroke="#231f20" stroke-width="1.0"/>
<text x="167.00" y="485.96" font-size="8.2" text-anchor="end" fill="#231f20" stroke="#231f20" stroke-width="0.17" textLength="13.20" lengthAdjust="spacingAndGlyphs">300</text>
<line x1="170.10" y1="470.72" x2="173.50" y2="470.72" stroke="#231f20" stroke-width="1.0"/>
<text x="167.00" y="473.54" font-size="8.2" text-anchor="end" fill="#231f20" stroke="#231f20" stroke-width="0.17" textLength="13.20" lengthAdjust="spacingAndGlyphs">400</text>
<line x1="170.10" y1="458.30" x2="173.50" y2="458.30" stroke="#231f20" stroke-width="1.0"/>
<text x="167.00" y="461.12" font-size="8.2" text-anchor="end" fill="#231f20" stroke="#231f20" stroke-width="0.17" textLength="13.20" lengthAdjust="spacingAndGlyphs">500</text>
<rect x="177.30" y="478.60" width="15.30" height="41.80" fill="#4d6383"/>
<line x1="184.95" y1="520.40" x2="184.95" y2="523.00" stroke="#231f20" stroke-width="1.0"/>
<rect x="200.70" y="514.00" width="15.30" height="6.40" fill="#a03444"/>
<line x1="208.35" y1="520.40" x2="208.35" y2="523.00" stroke="#231f20" stroke-width="1.0"/>
<rect x="224.10" y="479.10" width="15.30" height="41.30" fill="#4d6383"/>
<line x1="231.75" y1="520.40" x2="231.75" y2="523.00" stroke="#231f20" stroke-width="1.0"/>
<rect x="247.50" y="517.40" width="15.30" height="3.00" fill="#a03444"/>
<line x1="255.15" y1="520.40" x2="255.15" y2="523.00" stroke="#231f20" stroke-width="1.0"/>
<circle cx="181.00" cy="471.60" r="2.75" fill="#fff" stroke="#000" stroke-width="1.05"/>
<circle cx="189.10" cy="472.80" r="2.75" fill="#fff" stroke="#000" stroke-width="1.05"/>
<circle cx="183.90" cy="475.00" r="2.75" fill="#fff" stroke="#000" stroke-width="1.05"/>
<circle cx="179.90" cy="478.60" r="2.75" fill="#fff" stroke="#000" stroke-width="1.05"/>
<circle cx="186.80" cy="479.10" r="2.75" fill="#fff" stroke="#000" stroke-width="1.05"/>
<circle cx="189.70" cy="478.00" r="2.75" fill="#fff" stroke="#000" stroke-width="1.05"/>
<circle cx="183.30" cy="482.60" r="2.75" fill="#fff" stroke="#000" stroke-width="1.05"/>
<circle cx="204.80" cy="510.50" r="2.75" fill="#fff" stroke="#000" stroke-width="1.05"/>
<circle cx="212.90" cy="508.70" r="2.75" fill="#fff" stroke="#000" stroke-width="1.05"/>
<circle cx="208.90" cy="512.80" r="2.75" fill="#fff" stroke="#000" stroke-width="1.05"/>
<circle cx="211.80" cy="513.40" r="2.75" fill="#fff" stroke="#000" stroke-width="1.05"/>
<circle cx="204.20" cy="514.50" r="2.75" fill="#fff" stroke="#000" stroke-width="1.05"/>
<circle cx="207.10" cy="516.80" r="2.75" fill="#fff" stroke="#000" stroke-width="1.05"/>
<circle cx="210.00" cy="516.60" r="2.75" fill="#fff" stroke="#000" stroke-width="1.05"/>
<circle cx="231.60" cy="472.80" r="2.75" fill="#fff" stroke="#000" stroke-width="1.05"/>
<circle cx="228.10" cy="476.20" r="2.75" fill="#fff" stroke="#000" stroke-width="1.05"/>
<circle cx="235.10" cy="478.60" r="2.75" fill="#fff" stroke="#000" stroke-width="1.05"/>
<circle cx="231.00" cy="480.30" r="2.75" fill="#fff" stroke="#000" stroke-width="1.05"/>
<circle cx="232.80" cy="482.60" r="2.75" fill="#fff" stroke="#000" stroke-width="1.05"/>
<circle cx="254.80" cy="511.00" r="2.75" fill="#fff" stroke="#000" stroke-width="1.05"/>
<circle cx="251.30" cy="514.00" r="2.75" fill="#fff" stroke="#000" stroke-width="1.05"/>
<circle cx="253.60" cy="518.60" r="2.75" fill="#fff" stroke="#000" stroke-width="1.05"/>
<circle cx="258.30" cy="518.60" r="2.75" fill="#fff" stroke="#000" stroke-width="1.05"/>
<circle cx="255.40" cy="521.50" r="2.75" fill="#fff" stroke="#000" stroke-width="1.05"/>
<line x1="169.90" y1="520.40" x2="267.50" y2="520.40" stroke="#231f20" stroke-width="1.0"/>
<circle cx="205.00" cy="500.70" r="1.1" fill="#4a4a4a"/>
<circle cx="208.35" cy="500.70" r="1.1" fill="#4a4a4a"/>
<circle cx="211.70" cy="500.70" r="1.1" fill="#4a4a4a"/>
<circle cx="251.80" cy="500.70" r="1.1" fill="#4a4a4a"/>
<circle cx="255.15" cy="500.70" r="1.1" fill="#4a4a4a"/>
<circle cx="258.50" cy="500.70" r="1.1" fill="#4a4a4a"/>
<text x="185.25" y="534.32" font-size="8.2" text-anchor="middle" fill="#6f86ad" stroke="#6f86ad" stroke-width="0" textLength="12.90" lengthAdjust="spacingAndGlyphs">+/+</text>
<text x="208.65" y="534.32" font-size="8.2" text-anchor="middle" fill="#a8384f" stroke="#a8384f" stroke-width="0.05" textLength="11.90" lengthAdjust="spacingAndGlyphs">fl/fl</text>
<text x="232.05" y="534.32" font-size="8.2" text-anchor="middle" fill="#6f86ad" stroke="#6f86ad" stroke-width="0" textLength="12.90" lengthAdjust="spacingAndGlyphs">+/+</text>
<text x="255.45" y="534.32" font-size="8.2" text-anchor="middle" fill="#a8384f" stroke="#a8384f" stroke-width="0.05" textLength="11.90" lengthAdjust="spacingAndGlyphs">fl/fl</text>
<line x1="173.90" y1="539.40" x2="216.50" y2="539.40" stroke="#333" stroke-width="1.1"/>
<line x1="224.10" y1="539.40" x2="266.50" y2="539.40" stroke="#333" stroke-width="1.1"/>
<text x="193.20" y="549.72" font-size="8.2" text-anchor="middle" fill="#231f20" stroke="#231f20" stroke-width="0.17" textLength="38.00" lengthAdjust="spacingAndGlyphs">Gp1ba-Cre</text>
<text x="240.80" y="549.72" font-size="8.2" text-anchor="middle" fill="#231f20" stroke="#231f20" stroke-width="0.17" textLength="25.80" lengthAdjust="spacingAndGlyphs">Pf4-Cre</text>
<text x="342.90" y="449.12" font-size="8.2" text-anchor="middle" fill="#231f20" stroke="#231f20" stroke-width="0.17" textLength="48.20" lengthAdjust="spacingAndGlyphs">30 µg/ml CRP</text>
<line x1="296.00" y1="455.40" x2="296.00" y2="520.90" stroke="#231f20" stroke-width="1.0"/>
<line x1="292.60" y1="520.40" x2="296.00" y2="520.40" stroke="#231f20" stroke-width="1.0"/>
<text x="289.50" y="523.22" font-size="8.2" text-anchor="end" fill="#231f20" stroke="#231f20" stroke-width="0.17">0</text>
<line x1="292.60" y1="507.98" x2="296.00" y2="507.98" stroke="#231f20" stroke-width="1.0"/>
<text x="289.50" y="510.80" font-size="8.2" text-anchor="end" fill="#231f20" stroke="#231f20" stroke-width="0.17" textLength="13.20" lengthAdjust="spacingAndGlyphs">100</text>
<line x1="292.60" y1="495.56" x2="296.00" y2="495.56" stroke="#231f20" stroke-width="1.0"/>
<text x="289.50" y="498.38" font-size="8.2" text-anchor="end" fill="#231f20" stroke="#231f20" stroke-width="0.17" textLength="13.20" lengthAdjust="spacingAndGlyphs">200</text>
<line x1="292.60" y1="483.14" x2="296.00" y2="483.14" stroke="#231f20" stroke-width="1.0"/>
<text x="289.50" y="485.96" font-size="8.2" text-anchor="end" fill="#231f20" stroke="#231f20" stroke-width="0.17" textLength="13.20" lengthAdjust="spacingAndGlyphs">300</text>
<line x1="292.60" y1="470.72" x2="296.00" y2="470.72" stroke="#231f20" stroke-width="1.0"/>
<text x="289.50" y="473.54" font-size="8.2" text-anchor="end" fill="#231f20" stroke="#231f20" stroke-width="0.17" textLength="13.20" lengthAdjust="spacingAndGlyphs">400</text>
<line x1="292.60" y1="458.30" x2="296.00" y2="458.30" stroke="#231f20" stroke-width="1.0"/>
<text x="289.50" y="461.12" font-size="8.2" text-anchor="end" fill="#231f20" stroke="#231f20" stroke-width="0.17" textLength="13.20" lengthAdjust="spacingAndGlyphs">500</text>
<rect x="299.80" y="475.70" width="15.30" height="44.70" fill="#4d6383"/>
<line x1="307.45" y1="520.40" x2="307.45" y2="523.00" stroke="#231f20" stroke-width="1.0"/>
<rect x="323.20" y="505.00" width="15.30" height="15.40" fill="#a03444"/>
<line x1="330.85" y1="520.40" x2="330.85" y2="523.00" stroke="#231f20" stroke-width="1.0"/>
<rect x="346.60" y="476.80" width="15.30" height="43.60" fill="#4d6383"/>
<line x1="354.25" y1="520.40" x2="354.25" y2="523.00" stroke="#231f20" stroke-width="1.0"/>
<rect x="370.00" y="507.30" width="15.30" height="13.10" fill="#a03444"/>
<line x1="377.65" y1="520.40" x2="377.65" y2="523.00" stroke="#231f20" stroke-width="1.0"/>
<line x1="331.00" y1="505.00" x2="331.00" y2="498.30" stroke="#231f20" stroke-width="1.0"/>
<line x1="326.60" y1="498.30" x2="335.40" y2="498.30" stroke="#231f20" stroke-width="1.0"/>
<line x1="377.40" y1="507.30" x2="377.40" y2="496.00" stroke="#231f20" stroke-width="1.0"/>
<line x1="373.00" y1="496.00" x2="381.80" y2="496.00" stroke="#231f20" stroke-width="1.0"/>
<circle cx="303.70" cy="470.20" r="2.75" fill="#fff" stroke="#000" stroke-width="1.05"/>
<circle cx="311.80" cy="472.00" r="2.75" fill="#fff" stroke="#000" stroke-width="1.05"/>
<circle cx="303.70" cy="474.50" r="2.75" fill="#fff" stroke="#000" stroke-width="1.05"/>
<circle cx="311.00" cy="480.00" r="2.75" fill="#fff" stroke="#000" stroke-width="1.05"/>
<circle cx="307.20" cy="481.10" r="2.75" fill="#fff" stroke="#000" stroke-width="1.05"/>
<circle cx="333.90" cy="496.50" r="2.75" fill="#fff" stroke="#000" stroke-width="1.05"/>
<circle cx="327.30" cy="503.50" r="2.75" fill="#fff" stroke="#000" stroke-width="1.05"/>
<circle cx="334.40" cy="506.40" r="2.75" fill="#fff" stroke="#000" stroke-width="1.05"/>
<circle cx="326.90" cy="514.00" r="2.75" fill="#fff" stroke="#000" stroke-width="1.05"/>
<circle cx="350.40" cy="474.30" r="2.75" fill="#fff" stroke="#000" stroke-width="1.05"/>
<circle cx="352.20" cy="474.00" r="2.75" fill="#fff" stroke="#000" stroke-width="1.05"/>
<circle cx="357.40" cy="474.00" r="2.75" fill="#fff" stroke="#000" stroke-width="1.05"/>
<circle cx="353.90" cy="481.50" r="2.75" fill="#fff" stroke="#000" stroke-width="1.05"/>
<circle cx="356.20" cy="482.00" r="2.75" fill="#fff" stroke="#000" stroke-width="1.05"/>
<circle cx="373.40" cy="492.50" r="2.75" fill="#fff" stroke="#000" stroke-width="1.05"/>
<circle cx="380.80" cy="497.10" r="2.75" fill="#fff" stroke="#000" stroke-width="1.05"/>
<circle cx="373.60" cy="514.00" r="2.75" fill="#fff" stroke="#000" stroke-width="1.05"/>
<circle cx="376.90" cy="516.30" r="2.75" fill="#fff" stroke="#000" stroke-width="1.05"/>
<circle cx="380.80" cy="516.30" r="2.75" fill="#fff" stroke="#000" stroke-width="1.05"/>
<line x1="292.40" y1="520.40" x2="390.00" y2="520.40" stroke="#231f20" stroke-width="1.0"/>
<circle cx="327.50" cy="485.00" r="1.1" fill="#4a4a4a"/>
<circle cx="330.85" cy="485.00" r="1.1" fill="#4a4a4a"/>
<circle cx="334.20" cy="485.00" r="1.1" fill="#4a4a4a"/>
<circle cx="374.30" cy="485.00" r="1.1" fill="#4a4a4a"/>
<circle cx="377.65" cy="485.00" r="1.1" fill="#4a4a4a"/>
<circle cx="381.00" cy="485.00" r="1.1" fill="#4a4a4a"/>
<text x="307.75" y="534.32" font-size="8.2" text-anchor="middle" fill="#6f86ad" stroke="#6f86ad" stroke-width="0" textLength="12.90" lengthAdjust="spacingAndGlyphs">+/+</text>
<text x="331.15" y="534.32" font-size="8.2" text-anchor="middle" fill="#a8384f" stroke="#a8384f" stroke-width="0.05" textLength="11.90" lengthAdjust="spacingAndGlyphs">fl/fl</text>
<text x="354.55" y="534.32" font-size="8.2" text-anchor="middle" fill="#6f86ad" stroke="#6f86ad" stroke-width="0" textLength="12.90" lengthAdjust="spacingAndGlyphs">+/+</text>
<text x="377.95" y="534.32" font-size="8.2" text-anchor="middle" fill="#a8384f" stroke="#a8384f" stroke-width="0.05" textLength="11.90" lengthAdjust="spacingAndGlyphs">fl/fl</text>
<line x1="296.40" y1="539.40" x2="339.00" y2="539.40" stroke="#333" stroke-width="1.1"/>
<line x1="346.60" y1="539.40" x2="389.00" y2="539.40" stroke="#333" stroke-width="1.1"/>
<text x="315.70" y="549.72" font-size="8.2" text-anchor="middle" fill="#231f20" stroke="#231f20" stroke-width="0.17" textLength="38.00" lengthAdjust="spacingAndGlyphs">Gp1ba-Cre</text>
<text x="363.30" y="549.72" font-size="8.2" text-anchor="middle" fill="#231f20" stroke="#231f20" stroke-width="0.17" textLength="25.80" lengthAdjust="spacingAndGlyphs">Pf4-Cre</text>
<text x="465.40" y="449.12" font-size="8.2" text-anchor="middle" fill="#231f20" stroke="#231f20" stroke-width="0.17" textLength="69.20" lengthAdjust="spacingAndGlyphs">0.06 U/ml thrombin</text>
<line x1="418.60" y1="455.40" x2="418.60" y2="520.90" stroke="#231f20" stroke-width="1.0"/>
<line x1="415.20" y1="520.40" x2="418.60" y2="520.40" stroke="#231f20" stroke-width="1.0"/>
<text x="412.10" y="523.22" font-size="8.2" text-anchor="end" fill="#231f20" stroke="#231f20" stroke-width="0.17">0</text>
<line x1="415.20" y1="507.98" x2="418.60" y2="507.98" stroke="#231f20" stroke-width="1.0"/>
<text x="412.10" y="510.80" font-size="8.2" text-anchor="end" fill="#231f20" stroke="#231f20" stroke-width="0.17" textLength="13.20" lengthAdjust="spacingAndGlyphs">100</text>
<line x1="415.20" y1="495.56" x2="418.60" y2="495.56" stroke="#231f20" stroke-width="1.0"/>
<text x="412.10" y="498.38" font-size="8.2" text-anchor="end" fill="#231f20" stroke="#231f20" stroke-width="0.17" textLength="13.20" lengthAdjust="spacingAndGlyphs">200</text>
<line x1="415.20" y1="483.14" x2="418.60" y2="483.14" stroke="#231f20" stroke-width="1.0"/>
<text x="412.10" y="485.96" font-size="8.2" text-anchor="end" fill="#231f20" stroke="#231f20" stroke-width="0.17" textLength="13.20" lengthAdjust="spacingAndGlyphs">300</text>
<line x1="415.20" y1="470.72" x2="418.60" y2="470.72" stroke="#231f20" stroke-width="1.0"/>
<text x="412.10" y="473.54" font-size="8.2" text-anchor="end" fill="#231f20" stroke="#231f20" stroke-width="0.17" textLength="13.20" lengthAdjust="spacingAndGlyphs">400</text>
<line x1="415.20" y1="458.30" x2="418.60" y2="458.30" stroke="#231f20" stroke-width="1.0"/>
<text x="412.10" y="461.12" font-size="8.2" text-anchor="end" fill="#231f20" stroke="#231f20" stroke-width="0.17" textLength="13.20" lengthAdjust="spacingAndGlyphs">500</text>
<rect x="422.40" y="475.90" width="15.30" height="44.50" fill="#4d6383"/>
<line x1="430.05" y1="520.40" x2="430.05" y2="523.00" stroke="#231f20" stroke-width="1.0"/>
<rect x="445.80" y="478.30" width="15.30" height="42.10" fill="#a03444"/>
<line x1="453.45" y1="520.40" x2="453.45" y2="523.00" stroke="#231f20" stroke-width="1.0"/>
<rect x="469.20" y="476.20" width="15.30" height="44.20" fill="#4d6383"/>
<line x1="476.85" y1="520.40" x2="476.85" y2="523.00" stroke="#231f20" stroke-width="1.0"/>
<rect x="492.60" y="476.50" width="15.30" height="43.90" fill="#a03444"/>
<line x1="500.25" y1="520.40" x2="500.25" y2="523.00" stroke="#231f20" stroke-width="1.0"/>
<circle cx="426.70" cy="471.10" r="2.75" fill="#fff" stroke="#000" stroke-width="1.05"/>
<circle cx="431.90" cy="474.90" r="2.75" fill="#fff" stroke="#000" stroke-width="1.05"/>
<circle cx="434.50" cy="475.40" r="2.75" fill="#fff" stroke="#000" stroke-width="1.05"/>
<circle cx="428.60" cy="476.80" r="2.75" fill="#fff" stroke="#000" stroke-width="1.05"/>
<circle cx="433.90" cy="477.80" r="2.75" fill="#fff" stroke="#000" stroke-width="1.05"/>
<circle cx="449.70" cy="473.00" r="2.75" fill="#fff" stroke="#000" stroke-width="1.05"/>
<circle cx="457.40" cy="475.40" r="2.75" fill="#fff" stroke="#000" stroke-width="1.05"/>
<circle cx="450.70" cy="477.80" r="2.75" fill="#fff" stroke="#000" stroke-width="1.05"/>
<circle cx="456.90" cy="479.20" r="2.75" fill="#fff" stroke="#000" stroke-width="1.05"/>
<circle cx="453.60" cy="486.00" r="2.75" fill="#fff" stroke="#000" stroke-width="1.05"/>
<circle cx="473.20" cy="472.50" r="2.75" fill="#fff" stroke="#000" stroke-width="1.05"/>
<circle cx="476.50" cy="472.50" r="2.75" fill="#fff" stroke="#000" stroke-width="1.05"/>
<circle cx="480.40" cy="471.10" r="2.75" fill="#fff" stroke="#000" stroke-width="1.05"/>
<circle cx="473.20" cy="482.60" r="2.75" fill="#fff" stroke="#000" stroke-width="1.05"/>
<circle cx="480.90" cy="481.30" r="2.75" fill="#fff" stroke="#000" stroke-width="1.05"/>
<circle cx="496.70" cy="473.00" r="2.75" fill="#fff" stroke="#000" stroke-width="1.05"/>
<circle cx="503.50" cy="474.40" r="2.75" fill="#fff" stroke="#000" stroke-width="1.05"/>
<circle cx="498.20" cy="475.90" r="2.75" fill="#fff" stroke="#000" stroke-width="1.05"/>
<circle cx="502.00" cy="476.00" r="2.75" fill="#fff" stroke="#000" stroke-width="1.05"/>
<circle cx="500.10" cy="480.20" r="2.75" fill="#fff" stroke="#000" stroke-width="1.05"/>
<line x1="415.00" y1="520.40" x2="512.60" y2="520.40" stroke="#231f20" stroke-width="1.0"/>
<text x="430.35" y="534.32" font-size="8.2" text-anchor="middle" fill="#6f86ad" stroke="#6f86ad" stroke-width="0" textLength="12.90" lengthAdjust="spacingAndGlyphs">+/+</text>
<text x="453.75" y="534.32" font-size="8.2" text-anchor="middle" fill="#a8384f" stroke="#a8384f" stroke-width="0.05" textLength="11.90" lengthAdjust="spacingAndGlyphs">fl/fl</text>
<text x="477.15" y="534.32" font-size="8.2" text-anchor="middle" fill="#6f86ad" stroke="#6f86ad" stroke-width="0" textLength="12.90" lengthAdjust="spacingAndGlyphs">+/+</text>
<text x="500.55" y="534.32" font-size="8.2" text-anchor="middle" fill="#a8384f" stroke="#a8384f" stroke-width="0.05" textLength="11.90" lengthAdjust="spacingAndGlyphs">fl/fl</text>
<line x1="419.00" y1="539.40" x2="461.60" y2="539.40" stroke="#333" stroke-width="1.1"/>
<line x1="469.20" y1="539.40" x2="511.60" y2="539.40" stroke="#333" stroke-width="1.1"/>
<text x="438.30" y="549.72" font-size="8.2" text-anchor="middle" fill="#231f20" stroke="#231f20" stroke-width="0.17" textLength="38.00" lengthAdjust="spacingAndGlyphs">Gp1ba-Cre</text>
<text x="485.90" y="549.72" font-size="8.2" text-anchor="middle" fill="#231f20" stroke="#231f20" stroke-width="0.17" textLength="25.80" lengthAdjust="spacingAndGlyphs">Pf4-Cre</text>
<text transform="translate(23.81,489.00) rotate(-90)" x="0" y="0" font-size="7.6" text-anchor="middle" fill="#231f20" stroke="#231f20" stroke-width="0.17" textLength="16.00" lengthAdjust="spacingAndGlyphs">AUC</text>
<text x="15.90" y="534.02" font-size="8.2" text-anchor="start" fill="#231f20" stroke="#231f20" stroke-width="0.17" textLength="24.50" lengthAdjust="spacingAndGlyphs">CD148:</text>
<rect x="0" y="0" width="520" height="1" fill="#1e1e1e"/>
<rect x="0" y="0" width="1" height="560" fill="#1e1e1e"/>
<rect x="518" y="1" width="1" height="558" fill="#b8b8b8"/>
<rect x="519" y="0" width="1" height="560" fill="#4a4a4a"/>
<rect x="1" y="558" width="518" height="1" fill="#b8b8b8"/>
<rect x="0" y="559" width="520" height="1" fill="#4a4a4a"/>
</svg>
</body></html>
